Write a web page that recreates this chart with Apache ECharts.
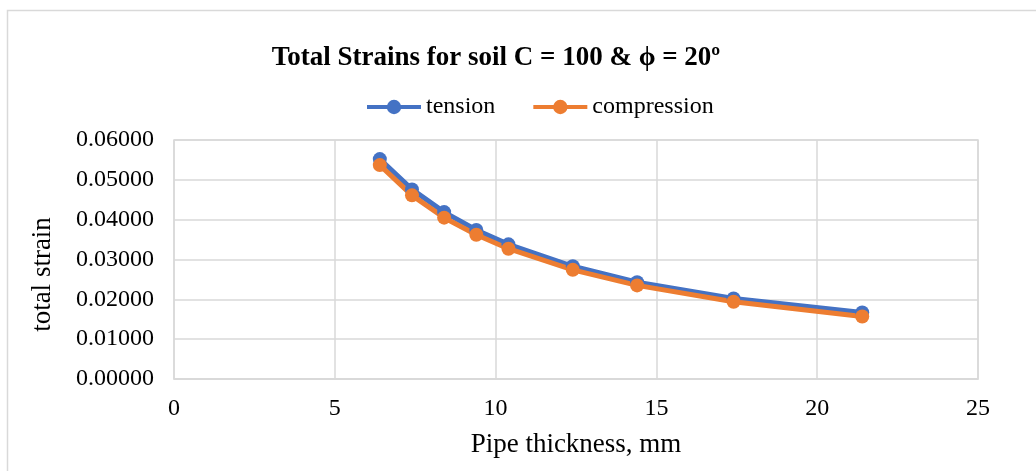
<!DOCTYPE html>
<html>
<head>
<meta charset="utf-8">
<style>
  html, body { margin: 0; padding: 0; background: #fff; }
  #chart { width: 1036px; height: 471px; }
</style>
<script src="https://cdn.jsdelivr.net/npm/echarts@6/dist/echarts.min.js"></script>
</head>
<body>
<div id="chart"></div>
<script>
// Pipe thickness (mm) and total strain values
const thickness = [6.4, 7.4, 8.4, 9.4, 10.4, 12.4, 14.4, 17.4, 21.4];
const tension = [0.0552, 0.0476, 0.0419, 0.0374, 0.0338, 0.0283, 0.0243, 0.0202, 0.0167];
const compression = [0.0537, 0.0461, 0.0405, 0.0362, 0.0327, 0.0274, 0.0235, 0.0194, 0.0157];

const fontFamily = '"Liberation Serif", "Times New Roman", serif';
const gridColor = '#d9d9d9';

function pairs(xs, ys) {
    return xs.map((x, i) => [x, ys[i]]);
}

const chart = echarts.init(document.getElementById('chart'));
chart.setOption({
    animation: false,
    textStyle: { fontFamily: fontFamily },
    title: {
        text: 'Total Strains for soil C = 100 & \u03d5 = 20\u00ba',
        left: 491,
        textAlign: 'center',
        top: 40,
        textStyle: { fontFamily: fontFamily, fontSize: 27, fontWeight: 'bold', color: '#000' }
    },
    legend: {
        top: 90,
        left: 360,
        itemWidth: 54,
        itemHeight: 18,
        itemGap: 36,
        lineStyle: { width: 4 },
        textStyle: { fontFamily: fontFamily, fontSize: 24, color: '#000' },
        data: ['tension', 'compression']
    },
    graphic: [{
        type: 'rect',
        silent: true,
        shape: { x: 7.5, y: 10.5, width: 1100, height: 600 },
        style: { fill: 'none', stroke: gridColor, lineWidth: 1.5 }
    }],
    grid: {
        left: 174,
        right: 58,
        top: 140,
        bottom: 92,
        show: true,
        borderColor: gridColor,
        borderWidth: 1.5
    },
    xAxis: {
        type: 'value',
        min: 0,
        max: 25,
        interval: 5,
        name: 'Pipe thickness, mm',
        nameLocation: 'middle',
        nameGap: 52,
        nameTextStyle: { fontFamily: fontFamily, fontSize: 27, color: '#000' },
        axisLine: { show: true, lineStyle: { color: gridColor, width: 1.5 } },
        axisTick: { show: false },
        axisLabel: { fontFamily: fontFamily, fontSize: 24, color: '#000', margin: 18 },
        splitLine: { show: true, lineStyle: { color: gridColor, width: 1.5 } }
    },
    yAxis: {
        type: 'value',
        min: 0,
        max: 0.06,
        interval: 0.01,
        name: 'total strain',
        nameLocation: 'middle',
        nameGap: 118,
        nameRotate: 90,
        nameTextStyle: { fontFamily: fontFamily, fontSize: 27, color: '#000', padding: [0, 30, 0, 0] },
        axisLine: { show: false },
        axisTick: { show: false },
        axisLabel: {
            fontFamily: fontFamily, fontSize: 24, color: '#000', margin: 20,
            formatter: v => v.toFixed(5)
        },
        splitLine: { show: true, lineStyle: { color: gridColor, width: 1.5 } }
    },
    series: [{
        name: 'tension',
        type: 'line',
        data: pairs(thickness, tension),
        symbol: 'circle',
        symbolSize: 14,
        lineStyle: { color: '#4472c4', width: 5 },
        itemStyle: { color: '#4472c4' }
    }, {
        name: 'compression',
        type: 'line',
        data: pairs(thickness, compression),
        symbol: 'circle',
        symbolSize: 14,
        lineStyle: { color: '#ed7d31', width: 5 },
        itemStyle: { color: '#ed7d31' }
    }]
});
</script>
</body>
</html>
